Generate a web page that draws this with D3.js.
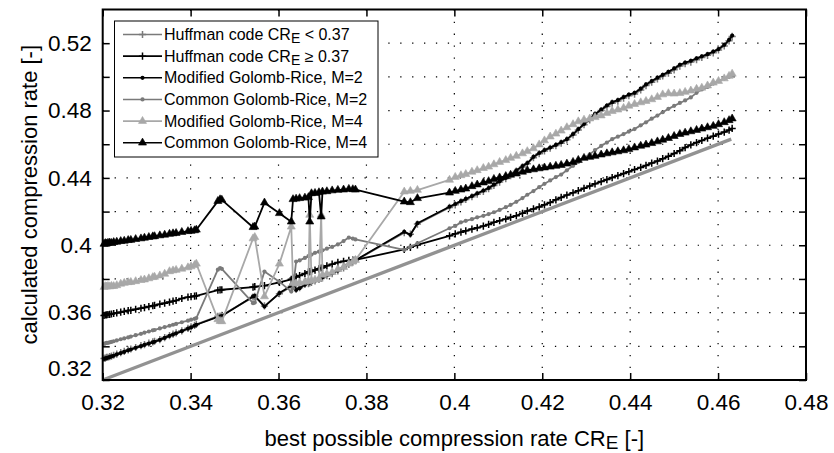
<!DOCTYPE html>
<html><head><meta charset="utf-8">
<script src="https://cdn.jsdelivr.net/npm/d3@7"></script>
<style>body{margin:0;background:#fff} text{font-family:"Liberation Sans",Arial,Helvetica,sans-serif}</style>
</head><body><svg id="c" width="834" height="453"></svg>
<script>
// best possible compression rate CR_E (shared x values)
const bestRate = [
  0.3203,0.3206,0.3209,0.3212,0.3216,0.3220,0.3225,0.3232,0.3241,0.3249,0.3258,0.3264,0.3275,0.3287,0.3295,0.3305,0.3314,0.3318,0.3330,0.3341,0.3352,0.3360,0.3367,0.3380,0.3394,0.3401,0.3409,0.3413,
  0.3462,0.3467,0.3471,0.3542,0.3546,0.3568,0.3602,0.3629,0.3633,0.3640,0.3648,0.3660,0.3668,0.3671,0.3675,0.3683,0.3692,0.3697,0.3700,0.3710,0.3722,0.3735,0.3748,0.3760,0.3769,0.3775,
  0.3886,0.3900,0.3916,
  0.3989,0.4002,0.4015,0.4026,0.4040,0.4052,0.4066,0.4078,0.4090,0.4103,0.4117,0.4128,0.4141,0.4155,0.4166,0.4180,0.4193,0.4205,0.4218,0.4231,0.4243,0.4256,0.4270,0.4282,0.4295,0.4308,
  0.4320,0.4334,0.4347,0.4359,0.4372,0.4385,0.4397,0.4410,0.4424,0.4436,0.4449,0.4462,0.4474,0.4487,0.4500,0.4513,0.4525,0.4538,0.4551,0.4563,0.4576,0.4589,0.4601,0.4614,0.4625,0.4632
];
const huffmanLow = [
  0.3328,0.3330,0.3334,0.3335,0.3339,0.3342,0.3347,0.3354,0.3362,0.3370,0.3378,0.3384,0.3393,0.3404,0.3410,0.3419,0.3426,0.3430,0.3440,0.3452,0.3464,0.3472,0.3480,0.3492,0.3507,0.3515,0.3524,0.3530,
  0.3578,0.3580,0.3584,0.3692,0.3697,0.3640,0.3712,0.3756,0.3770,0.3738,0.3748,0.3768,0.3772,0.3776,0.3780,0.3788,0.3797,0.3803,0.3808,0.3820,0.3832,0.3848,0.3866,0.3886,0.3900,0.3909,
  0.4075,0.4066,0.4126,
  0.4225,0.4240,0.4258,0.4272,0.4288,0.4303,0.4320,0.4336,0.4355,0.4375,0.4396,0.4414,0.4440,0.4465,0.4484,0.4520,0.4544,0.4560,0.4576,0.4592,0.4606,0.4626,0.4655,0.4684,0.4716,0.4744,
  0.4775,0.4800,0.4824,0.4844,0.4856,0.4874,0.4888,0.4898,0.4922,0.4948,0.4968,0.4988,0.5005,0.5022,0.5042,0.5064,0.5078,0.5088,0.5102,0.5115,0.5128,0.5143,0.5160,0.5184,0.5214,0.5240
];
const huffmanHigh = [
  0.3583,0.3586,0.3587,0.3589,0.3590,0.3592,0.3595,0.3598,0.3603,0.3607,0.3612,0.3614,0.3620,0.3626,0.3630,0.3636,0.3641,0.3643,0.3650,0.3656,0.3663,0.3668,0.3672,0.3684,0.3692,0.3695,0.3698,0.3700,
  0.3733,0.3735,0.3736,0.3752,0.3754,0.3760,0.3779,0.3798,0.3805,0.3812,0.3820,0.3832,0.3840,0.3843,0.3846,0.3853,0.3860,0.3865,0.3868,0.3878,0.3888,0.3898,0.3905,0.3910,0.3912,0.3913,
  0.3975,0.3988,0.4002,
  0.4056,0.4068,0.4078,0.4086,0.4096,0.4104,0.4114,0.4124,0.4136,0.4146,0.4156,0.4166,0.4176,0.4190,0.4204,0.4216,0.4228,0.4240,0.4254,0.4270,0.4284,0.4298,0.4312,0.4324,0.4338,0.4352,
  0.4365,0.4378,0.4390,0.4402,0.4414,0.4426,0.4437,0.4450,0.4462,0.4474,0.4488,0.4500,0.4514,0.4528,0.4545,0.4562,0.4580,0.4596,0.4610,0.4622,0.4636,0.4648,0.4660,0.4672,0.4684,0.4694
];
const modGR2 = [
  0.3325,0.3328,0.3330,0.3333,0.3336,0.3340,0.3344,0.3352,0.3360,0.3367,0.3376,0.3381,0.3391,0.3401,0.3408,0.3416,0.3424,0.3427,0.3438,0.3450,0.3462,0.3470,0.3477,0.3490,0.3505,0.3512,0.3522,0.3528,
  0.3575,0.3577,0.3580,0.3696,0.3700,0.3636,0.3716,0.3760,0.3775,0.3735,0.3745,0.3765,0.3775,0.3778,0.3782,0.3790,0.3800,0.3806,0.3810,0.3822,0.3835,0.3850,0.3870,0.3890,0.3903,0.3911,
  0.4080,0.4062,0.4131,
  0.4229,0.4245,0.4262,0.4275,0.4292,0.4308,0.4325,0.4340,0.4360,0.4380,0.4400,0.4418,0.4445,0.4470,0.4488,0.4525,0.4548,0.4565,0.4580,0.4596,0.4612,0.4630,0.4660,0.4690,0.4720,0.4750,
  0.4780,0.4805,0.4830,0.4850,0.4862,0.4880,0.4895,0.4905,0.4930,0.4955,0.4975,0.4995,0.5012,0.5030,0.5050,0.5072,0.5085,0.5095,0.5110,0.5122,0.5135,0.5150,0.5165,0.5190,0.5220,0.5245
];
const comGR2 = [
  0.3414,0.3418,0.3420,0.3421,0.3424,0.3426,0.3430,0.3435,0.3442,0.3447,0.3453,0.3458,0.3466,0.3474,0.3481,0.3488,0.3495,0.3497,0.3506,0.3514,0.3522,0.3528,0.3533,0.3543,0.3552,0.3558,0.3563,0.3568,
  0.3855,0.3864,0.3860,0.3656,0.3660,0.3844,0.3784,0.3725,0.3745,0.3903,0.3910,0.3925,0.3935,0.3940,0.3945,0.3955,0.3962,0.3966,0.3970,0.3980,0.3990,0.4005,0.4025,0.4046,0.4040,0.4035,
  0.3972,0.3990,0.4012,
  0.4101,0.4115,0.4136,0.4145,0.4155,0.4166,0.4175,0.4185,0.4196,0.4210,0.4226,0.4240,0.4258,0.4280,0.4300,0.4322,0.4345,0.4365,0.4385,0.4405,0.4420,0.4445,0.4472,0.4495,0.4518,0.4540,
  0.4565,0.4590,0.4610,0.4630,0.4645,0.4660,0.4675,0.4690,0.4712,0.4730,0.4752,0.4770,0.4790,0.4810,0.4828,0.4845,0.4860,0.4878,0.4905,0.4925,0.4940,0.4960,0.4975,0.4990,0.5000,0.5008
];
const modGR4 = [
  0.3752,0.3756,0.3754,0.3757,0.3755,0.3758,0.3757,0.3762,0.3771,0.3776,0.3780,0.3781,0.3786,0.3793,0.3796,0.3803,0.3810,0.3812,0.3820,0.3830,0.3845,0.3850,0.3853,0.3860,0.3868,0.3874,0.3882,0.3890,
  0.3560,0.3550,0.3548,0.4040,0.4048,0.3696,0.3890,0.4110,0.3775,0.3772,0.3778,0.3782,0.3785,0.4180,0.3790,0.3795,0.3800,0.4180,0.3824,0.3830,0.3840,0.3858,0.3870,0.3890,0.3903,0.3912,
  0.4318,0.4322,0.4328,
  0.4388,0.4405,0.4415,0.4422,0.4436,0.4445,0.4458,0.4466,0.4480,0.4494,0.4505,0.4518,0.4530,0.4545,0.4558,0.4575,0.4598,0.4622,0.4645,0.4662,0.4680,0.4700,0.4718,0.4735,0.4745,0.4752,
  0.4760,0.4770,0.4785,0.4796,0.4805,0.4815,0.4828,0.4838,0.4848,0.4856,0.4866,0.4880,0.4895,0.4902,0.4900,0.4903,0.4910,0.4918,0.4928,0.4935,0.4948,0.4965,0.4975,0.4990,0.5005,0.5018
];
const comGR4 = [
  0.4008,0.4012,0.4010,0.4014,0.4015,0.4013,0.4018,0.4020,0.4024,0.4026,0.4030,0.4031,0.4036,0.4040,0.4044,0.4048,0.4052,0.4053,0.4058,0.4062,0.4067,0.4070,0.4072,0.4078,0.4083,0.4085,0.4088,0.4092,
  0.4262,0.4272,0.4270,0.4107,0.4110,0.4253,0.4190,0.4140,0.4273,0.4276,0.4279,0.4282,0.4285,0.4140,0.4308,0.4310,0.4314,0.4170,0.4318,0.4320,0.4325,0.4328,0.4330,0.4334,0.4332,0.4330,
  0.4259,0.4255,0.4279,
  0.4312,0.4322,0.4330,0.4336,0.4350,0.4360,0.4372,0.4380,0.4393,0.4402,0.4410,0.4418,0.4425,0.4436,0.4445,0.4450,0.4456,0.4461,0.4466,0.4471,0.4476,0.4484,0.4494,0.4506,0.4518,0.4524,
  0.4530,0.4538,0.4545,0.4551,0.4557,0.4563,0.4570,0.4580,0.4590,0.4597,0.4606,0.4616,0.4626,0.4636,0.4648,0.4660,0.4668,0.4676,0.4684,0.4692,0.4700,0.4708,0.4718,0.4730,0.4742,0.4752
];
const referenceLine = [0.32, 0.463]; // y = CR_E
const xTicks = [0.32,0.34,0.36,0.38,0.40,0.42,0.44,0.46,0.48];
const yTicks = [0.32,0.34,0.36,0.38,0.40,0.42,0.44,0.46,0.48,0.50,0.52];
const yLabelTicks = [0.32,0.36,0.40,0.44,0.48,0.52];
const legendLabels = [
  ["Huffman code CR","E"," < 0.37"],
  ["Huffman code CR","E"," \u2265 0.37"],
  ["Modified Golomb-Rice, M=2","",""],
  ["Common Golomb-Rice, M=2","",""],
  ["Modified Golomb-Rice, M=4","",""],
  ["Common Golomb-Rice, M=4","",""]
];

const svg = d3.select("#c");
const L = 102.7, R = 806, T = 9.5, B = 380;
const x = d3.scaleLinear().domain([0.32, 0.48]).range([L, R]);
const y = d3.scaleLinear().domain([0.32, 0.54]).range([B, T]);
const fmt = v => String(+v.toFixed(2));

const series = [
  {vals: huffmanLow, color: "#7a7a7a", marker: "plus"},
  {vals: huffmanHigh, color: "#000", marker: "plus"},
  {vals: modGR2, color: "#000", marker: "dot"},
  {vals: comGR2, color: "#7a7a7a", marker: "dot"},
  {vals: modGR4, color: "#a8a8a8", marker: "tri"},
  {vals: comGR4, color: "#000", marker: "tri"}
];

// grid
const grid = svg.append("g");
grid.selectAll("line.gx").data(xTicks.filter(v => v > 0.321 && v < 0.479)).join("line")
  .attr("x1", d => x(d)).attr("x2", d => x(d)).attr("y1", B).attr("y2", T)
  .attr("stroke", "#000").attr("stroke-width", 1.2).attr("stroke-dasharray", "1.3,10.6");
grid.selectAll("line.gy").data(yTicks.filter(v => v > 0.321)).join("line")
  .attr("y1", d => y(d)).attr("y2", d => y(d)).attr("x1", L).attr("x2", R)
  .attr("stroke", "#000").attr("stroke-width", 1.2).attr("stroke-dasharray", "1.3,10.6");

// reference line
svg.append("line")
  .attr("x1", x(referenceLine[0])).attr("y1", y(referenceLine[0]))
  .attr("x2", x(referenceLine[1])).attr("y2", y(referenceLine[1]))
  .attr("stroke", "#929292").attr("stroke-width", 3.4);

const line = d3.line().x(d => x(d[0])).y(d => y(d[1]));
const triPath = d3.symbol(d3.symbolTriangle, 28)();
function drawMarker(g, type, color) {
  if (type === "plus") {
    g.append("path").attr("d", "M-3.6,0H3.6M0,-3.6V3.6").attr("stroke", color).attr("stroke-width", 1.5).attr("fill", "none");
  } else if (type === "dot") {
    g.append("circle").attr("r", 2.1).attr("fill", color);
  } else {
    g.append("path").attr("d", triPath).attr("fill", color).attr("stroke", color).attr("stroke-width", 0.6);
  }
}

const plot = svg.append("g");
series.forEach(s => {
  const pts = bestRate.map((xv, i) => [xv, s.vals[i]]).filter(p => p[1] != null);
  plot.append("path").datum(pts).attr("d", line).attr("fill", "none")
    .attr("stroke", s.color).attr("stroke-width", 1.8).attr("stroke-linejoin", "round");
  pts.forEach(p => {
    const g = plot.append("g").attr("transform", `translate(${x(p[0])},${y(p[1])})`);
    drawMarker(g, s.marker, s.color);
  });
});

// axes (ticks inward, MATLAB style)
const tickStyle = g => { g.select(".domain").remove(); g.selectAll(".tick line").attr("stroke", "#000").attr("stroke-width", 1.5); g.selectAll("text").attr("font-size", 22.5).attr("fill", "#000").attr("font-family", "Liberation Sans, Arial, sans-serif"); };
svg.append("g").attr("transform", `translate(0,${B})`)
  .call(d3.axisBottom(x).tickValues(xTicks).tickSize(-7).tickPadding(14).tickFormat(fmt)).call(tickStyle);
svg.append("g").attr("transform", `translate(0,${T})`)
  .call(d3.axisTop(x).tickValues(xTicks).tickSize(-7).tickFormat("")).call(tickStyle);
const yAx = svg.append("g").attr("transform", `translate(${L},0)`)
  .call(d3.axisLeft(y).tickValues(yTicks).tickSize(-7).tickPadding(11)
    .tickFormat(v => yLabelTicks.some(t => Math.abs(t - v) < 1e-6) ? fmt(v) : "")).call(tickStyle);
yAx.selectAll(".tick text").filter(d => Math.abs(d - 0.32) < 1e-6).attr("dy", "-0.2em");
svg.append("g").attr("transform", `translate(${R},0)`)
  .call(d3.axisRight(y).tickValues(yTicks).tickSize(-7).tickFormat("")).call(tickStyle);

// frame
svg.append("rect").attr("x", L).attr("y", T).attr("width", R - L).attr("height", B - T)
  .attr("fill", "none").attr("stroke", "#000").attr("stroke-width", 2);

// axis titles
const xt = svg.append("text").attr("x", (L + R) / 2).attr("y", 446).attr("text-anchor", "middle").attr("font-size", 22);
xt.append("tspan").text("best possible compression rate CR");
xt.append("tspan").text("E").attr("font-size", 19).attr("dy", 3);
xt.append("tspan").text(" [-]").attr("dy", -3);
svg.append("text").attr("transform", `translate(37,${(T + B) / 2}) rotate(-90)`)
  .attr("text-anchor", "middle").attr("font-size", 22).text("calculated compression rate [-]");

// legend
const lg = svg.append("g");
lg.append("rect").attr("x", 114.5).attr("y", 21).attr("width", 263.5).attr("height", 136)
  .attr("fill", "#fff").attr("stroke", "#000").attr("stroke-width", 1);
series.forEach((s, i) => {
  const cy = 34.5 + i * 21.65;
  lg.append("line").attr("x1", 123).attr("x2", 162).attr("y1", cy).attr("y2", cy)
    .attr("stroke", s.color).attr("stroke-width", 1.6);
  drawMarker(lg.append("g").attr("transform", `translate(142.5,${cy})`), s.marker, s.color);
  const t = lg.append("text").attr("x", 164).attr("y", cy + 5.6).attr("font-size", 16);
  const lab = legendLabels[i];
  t.append("tspan").text(lab[0]);
  if (lab[1]) {
    t.append("tspan").text(lab[1]).attr("font-size", 14).attr("dy", 3);
    t.append("tspan").text(lab[2]).attr("dy", -3);
  }
});
</script></body></html>
